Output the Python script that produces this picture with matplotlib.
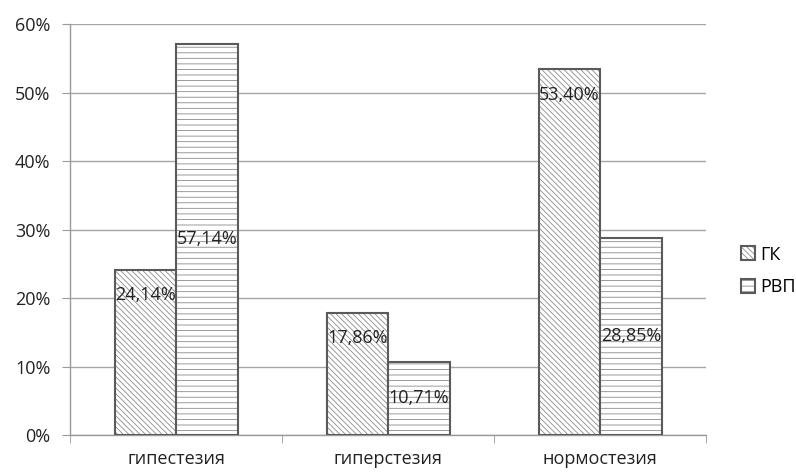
import numpy as np
import matplotlib
matplotlib.use("Agg")
import matplotlib.pyplot as plt

categories = ["гипестезия", "гиперстезия", "нормостезия"]
series = ["ГК", "РВП"]
gk_values = [24.14, 17.86, 53.40]
rvp_values = [57.14, 10.71, 28.85]
yticks = [0, 10, 20, 30, 40, 50, 60]

plt.rcParams['font.family'] = ['Open Sans', 'DejaVu Sans']
plt.rcParams['hatch.linewidth'] = 0.6

fig = plt.figure(figsize=(7.96, 4.73), dpi=100)
ax = fig.add_axes([0.088, 0.080, 0.799, 0.869])

x = np.arange(len(categories))
w = 0.29
edge = '#5a5a5a'
fs = 13

# ГК bars - diagonal hatch
b1 = ax.bar(x - w / 2, gk_values, w, color='white', edgecolor=edge,
            hatch='\\\\\\\\\\\\', linewidth=1.5, label=series[0], zorder=3)
# РВП bars - dashed horizontal hatch
b2 = ax.bar(x + w / 2, rvp_values, w, color='white', edgecolor=edge,
            hatch='---', linewidth=1.5, label=series[1], zorder=3)
for p in list(b1) + list(b2):
    p._hatch_color = matplotlib.colors.to_rgba('#8a8a8a')

def fmt(v):
    return f"{v:.2f}".replace('.', ',') + '%'

# labels: ГК near inside end, РВП at centre
for xi, v in zip(x, gk_values):
    ax.text(xi - w / 2, v - 3.7, fmt(v), ha='center', va='center', fontsize=fs, color='#222222', zorder=4)
for xi, v in zip(x, rvp_values):
    ax.text(xi + w / 2, v / 2, fmt(v), ha='center', va='center', fontsize=fs, color='#222222', zorder=4)

ax.set_xlim(-0.5, len(categories) - 0.5)
ax.set_ylim(0, 60)
ax.set_yticks(yticks)
ax.set_yticklabels([f"{t}%" for t in yticks], fontsize=fs, color='#222222')
ax.set_xticks(x)
ax.set_xticklabels(categories, fontsize=fs, color='#222222')
ax.tick_params(axis='x', length=0, pad=11)
ax.set_xticks(np.arange(-0.5, len(categories)), minor=True)
ax.tick_params(axis='x', which='minor', length=6, color='#9a9a9a')
ax.tick_params(axis='y', length=6, color='#9a9a9a', pad=8)

ax.grid(axis='y', color='#a6a6a6', linewidth=1, zorder=0)
for s in ['top', 'right']:
    ax.spines[s].set_visible(False)
for s in ['left', 'bottom']:
    ax.spines[s].set_color('#9a9a9a')
    ax.spines[s].set_linewidth(1)

ax.legend(loc='center left', bbox_to_anchor=(1.04, 0.40), frameon=False,
          fontsize=fs, handlelength=0.8, handleheight=0.8, handletextpad=0.3,
          labelspacing=0.8, borderpad=0)

fig.savefig("out.png", dpi=100)
